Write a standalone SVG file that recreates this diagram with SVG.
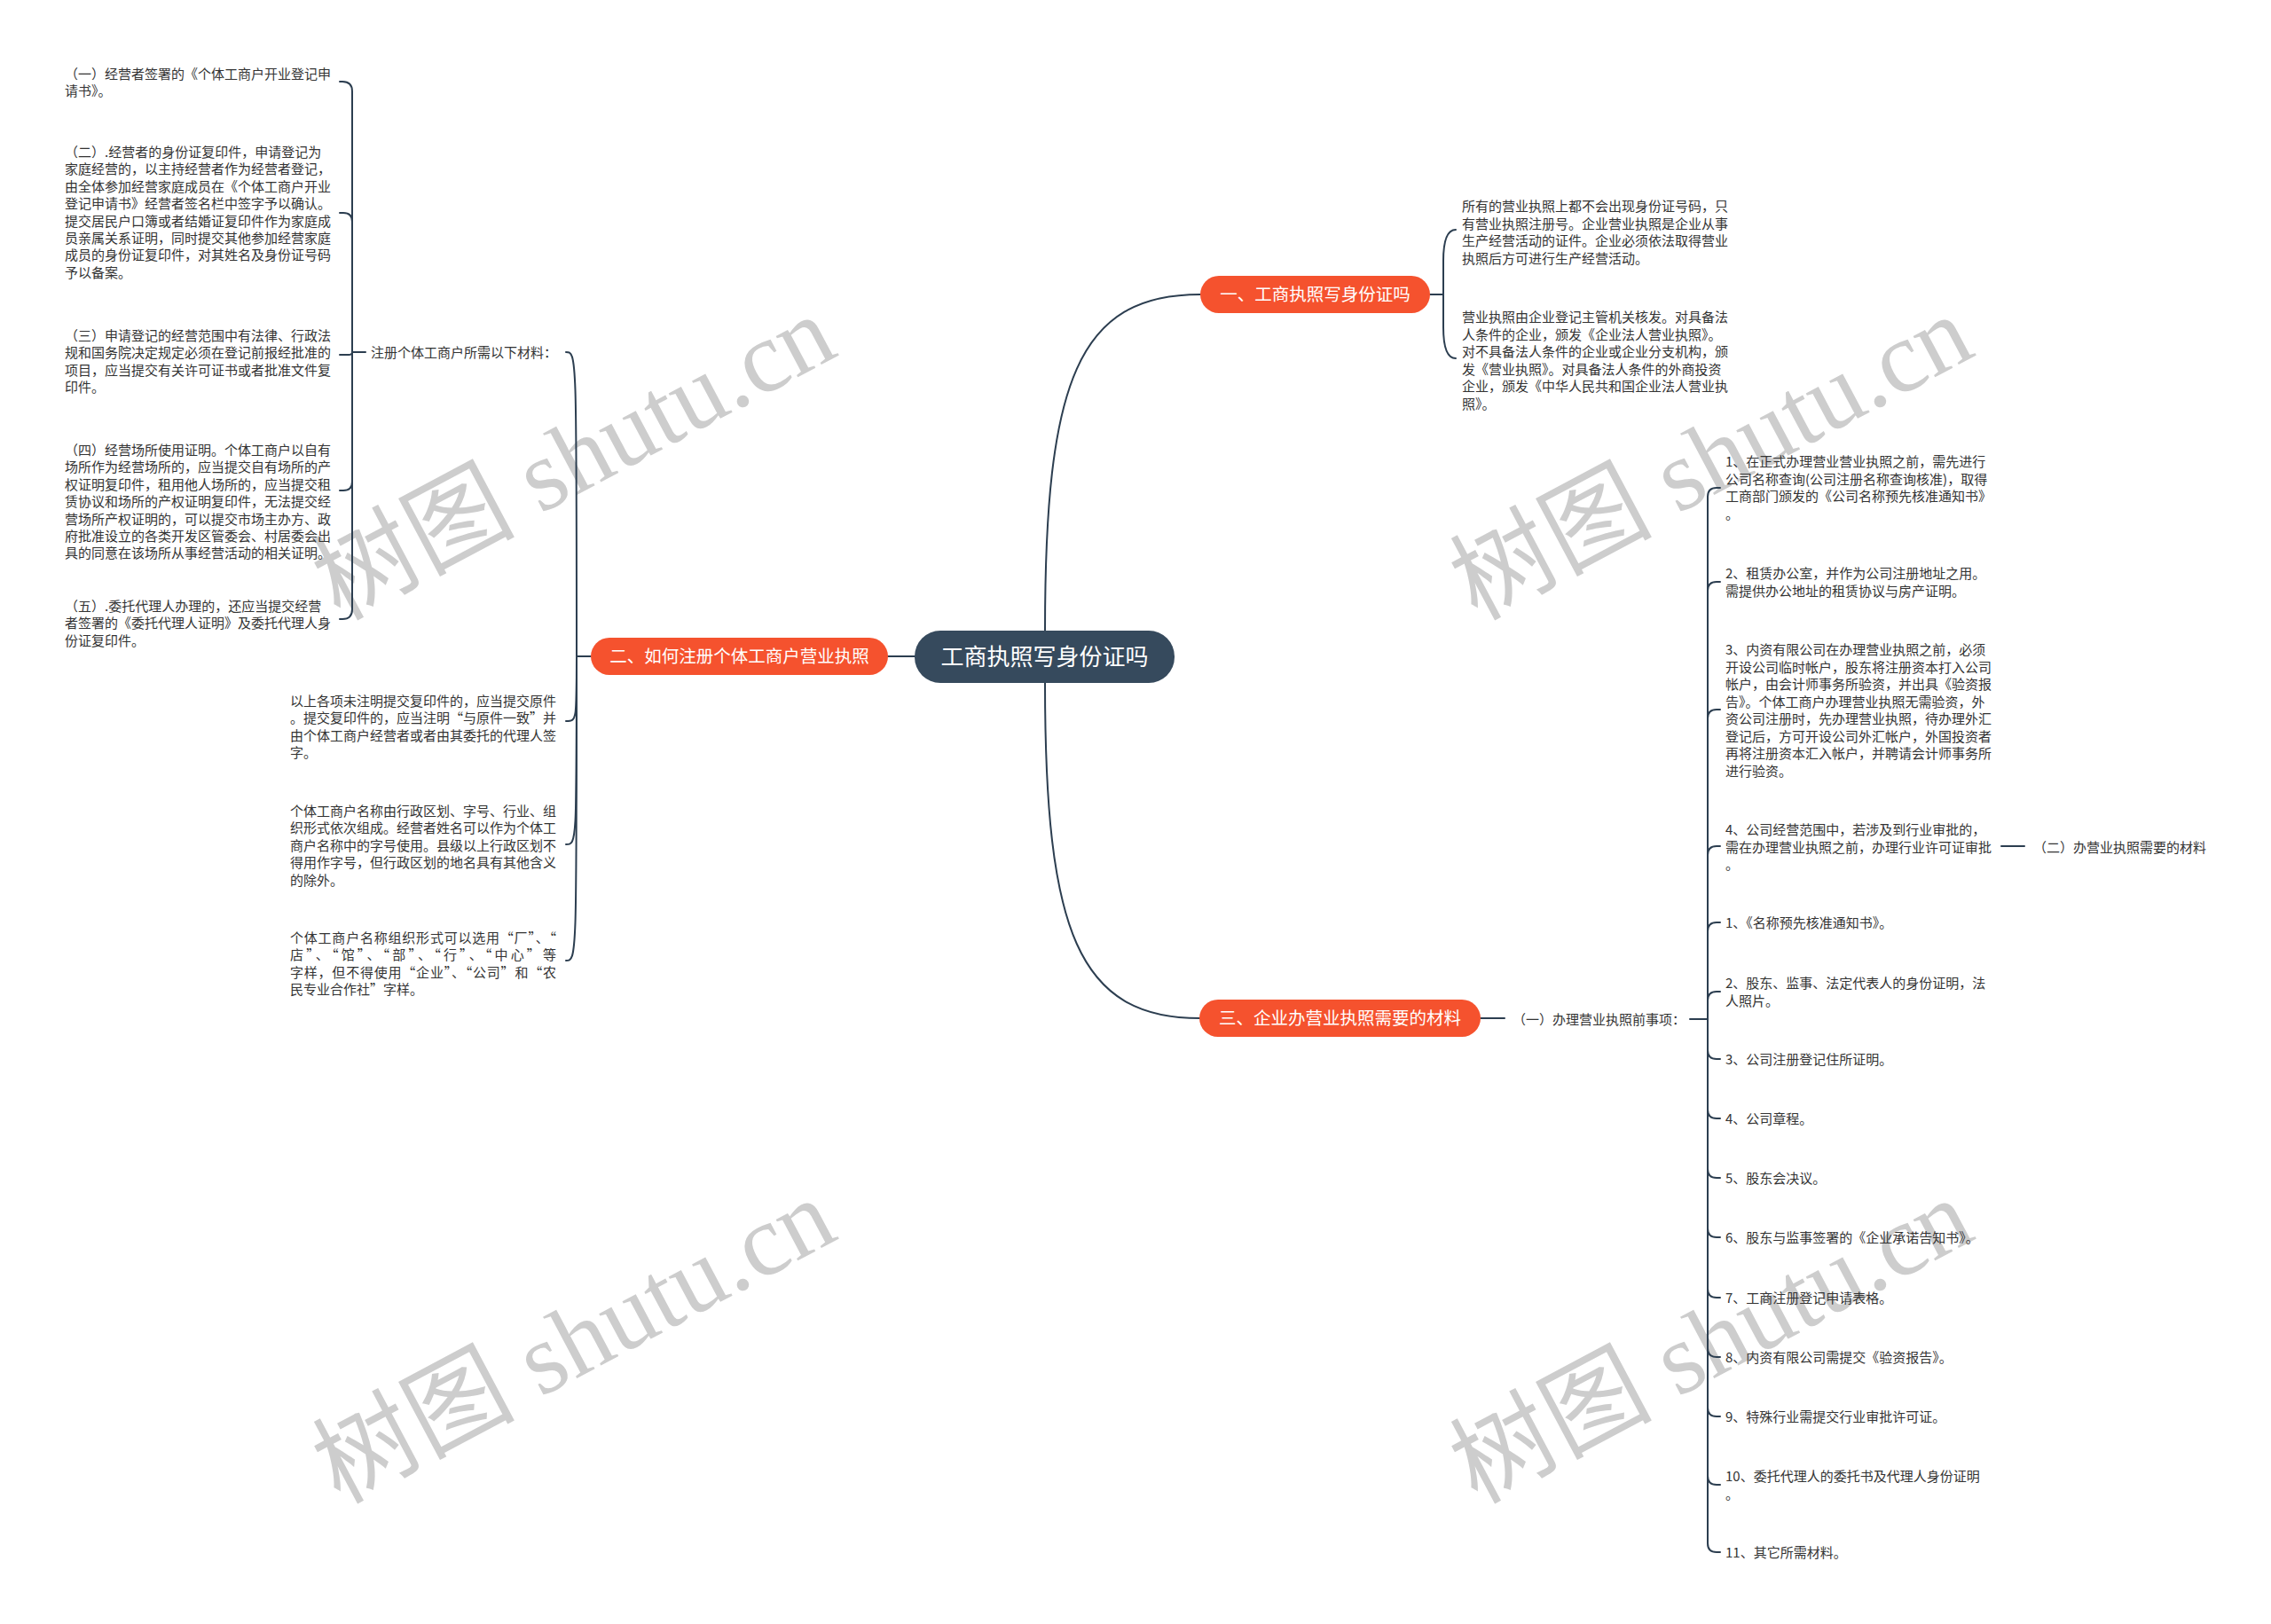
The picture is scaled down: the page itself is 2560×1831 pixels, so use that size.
<svg xmlns="http://www.w3.org/2000/svg" width="2560" height="1831" viewBox="0 0 2560 1831">
<style>
.t{font-family:"Noto Sans CJK SC","Microsoft YaHei",sans-serif;font-size:15px;fill:#333}
.b{font-family:"Noto Sans CJK SC","Microsoft YaHei",sans-serif;font-size:19.5px;fill:#fff;text-anchor:middle}
.r{font-family:"Noto Sans CJK SC","Microsoft YaHei",sans-serif;font-size:26px;fill:#fff;text-anchor:middle}
.c{fill:none;stroke:#2c3e50;stroke-width:2;stroke-linecap:round}
.wm{font-family:"Liberation Serif","Noto Sans CJK SC",serif;font-size:114px;fill:#cdcdcd;text-anchor:middle}
.pill{fill:#f5522e}
</style>
<rect width="2560" height="1831" fill="#fff"/>
<g id="watermarks">
<text class="wm" transform="translate(665 550) rotate(-28)">树图 shutu.cn</text>
<text class="wm" transform="translate(1947 550) rotate(-28)">树图 shutu.cn</text>
<text class="wm" transform="translate(665 1546) rotate(-28)">树图 shutu.cn</text>
<text class="wm" transform="translate(1947 1546) rotate(-28)">树图 shutu.cn</text>
</g>
<g id="connectors">
<path class="c" d="M1178 711 C1178 430 1215 332 1353 332"/>
<path class="c" d="M1178 770 C1178 1050 1215 1148 1353 1148"/>
<path class="c" d="M1031 740 H1001"/>
<path class="c" d="M1612 332 H1627"/>
<path class="c" d="M1627 332 V294 Q1627 259 1641 259"/>
<path class="c" d="M1627 332 V369 Q1627 404 1641 404"/>
<path class="c" d="M666 740 H650"/>
<path class="c" d="M650 740 C650 397 650 397 638 397"/>
<path class="c" d="M650 740 C650 813 650 813 638 813"/>
<path class="c" d="M650 740 C650 952 650 952 638 952"/>
<path class="c" d="M650 740 C650 1083 650 1083 638 1083"/>
<path class="c" d="M412 397 H397"/>
<path class="c" d="M397 397 V103 Q397 92 386 92 H383"/>
<path class="c" d="M397 397 V250 Q397 240 387 240 H383"/>
<path class="c" d="M397 397 Q397 400 393 400 H383"/>
<path class="c" d="M397 397 V543 Q397 553 387 553 H383"/>
<path class="c" d="M397 397 V687 Q397 698 386 698 H383"/>
<path class="c" d="M1669 1148 H1696"/>
<path class="c" d="M1905 1149 H1925"/>
<path class="c" d="M1925 1149 V560 Q1925 550 1935 550 H1939"/>
<path class="c" d="M1925 1149 V666 Q1925 656 1935 656 H1939"/>
<path class="c" d="M1925 1149 V810 Q1925 800 1935 800 H1939"/>
<path class="c" d="M1925 1149 V964 Q1925 954 1935 954 H1939"/>
<path class="c" d="M1925 1149 V1050 Q1925 1040 1935 1040 H1939"/>
<path class="c" d="M1925 1149 V1128 Q1925 1118 1935 1118 H1939"/>
<path class="c" d="M1925 1149 V1184 Q1925 1194 1935 1194 H1939"/>
<path class="c" d="M1925 1149 V1251 Q1925 1261 1935 1261 H1939"/>
<path class="c" d="M1925 1149 V1318 Q1925 1328 1935 1328 H1939"/>
<path class="c" d="M1925 1149 V1385 Q1925 1395 1935 1395 H1939"/>
<path class="c" d="M1925 1149 V1453 Q1925 1463 1935 1463 H1939"/>
<path class="c" d="M1925 1149 V1520 Q1925 1530 1935 1530 H1939"/>
<path class="c" d="M1925 1149 V1587 Q1925 1597 1935 1597 H1939"/>
<path class="c" d="M1925 1149 V1664 Q1925 1674 1935 1674 H1939"/>
<path class="c" d="M1925 1149 V1740 Q1925 1750 1935 1750 H1939"/>
<path class="c" d="M2256 954 H2282"/>
</g>
<g id="root">
<rect x="1031" y="711" width="293" height="59" rx="29" fill="#364a5d"/>
<text class="r" x="1177.5" y="750">工商执照写身份证吗</text>
</g>
<g id="b1">
<rect class="pill" x="1353" y="311" width="259" height="42" rx="21"/>
<text class="b" x="1482.5" y="339.4">一、工商执照写身份证吗</text>
</g>
<g id="b2">
<rect class="pill" x="666" y="719" width="335" height="42" rx="21"/>
<text class="b" x="833.5" y="747.4">二、如何注册个体工商户营业执照</text>
</g>
<g id="b3">
<rect class="pill" x="1352" y="1127" width="317" height="42" rx="21"/>
<text class="b" x="1510.5" y="1155.4">三、企业办营业执照需要的材料</text>
</g>
<g id="r1">
<text class="t"><tspan x="1648" y="238">所有的营业执照上都不会出现身份证号码，只</tspan><tspan x="1648" y="257.5">有营业执照注册号。企业营业执照是企业从事</tspan><tspan x="1648" y="277">生产经营活动的证件。企业必须依法取得营业</tspan><tspan x="1648" y="296.5">执照后方可进行生产经营活动。</tspan></text>
</g>
<g id="r2">
<text class="t"><tspan x="1648" y="363">营业执照由企业登记主管机关核发。对具备法</tspan><tspan x="1648" y="382.5">人条件的企业，颁发《企业法人营业执照》。</tspan><tspan x="1648" y="402">对不具备法人条件的企业或企业分支机构，颁</tspan><tspan x="1648" y="421.5">发《营业执照》。对具备法人条件的外商投资</tspan><tspan x="1648" y="441">企业，颁发《中华人民共和国企业法人营业执</tspan><tspan x="1648" y="460.5">照》。</tspan></text>
</g>
<g id="m0">
<text class="t" x="418" y="403">注册个体工商户所需以下材料：</text>
</g>
<g id="c1">
<text class="t"><tspan x="73" y="89">（一）经营者签署的《个体工商户开业登记申</tspan><tspan x="73" y="108.4">请书》。</tspan></text>
</g>
<g id="c2">
<text class="t"><tspan x="73" y="177">（二）.经营者的身份证复印件，申请登记为</tspan><tspan x="73" y="196.4">家庭经营的，以主持经营者作为经营者登记，</tspan><tspan x="73" y="215.8">由全体参加经营家庭成员在《个体工商户开业</tspan><tspan x="73" y="235.2">登记申请书》经营者签名栏中签字予以确认。</tspan><tspan x="73" y="254.6">提交居民户口簿或者结婚证复印件作为家庭成</tspan><tspan x="73" y="274">员亲属关系证明，同时提交其他参加经营家庭</tspan><tspan x="73" y="293.4">成员的身份证复印件，对其姓名及身份证号码</tspan><tspan x="73" y="312.8">予以备案。</tspan></text>
</g>
<g id="c3">
<text class="t"><tspan x="73" y="384">（三）申请登记的经营范围中有法律、行政法</tspan><tspan x="73" y="403.4">规和国务院决定规定必须在登记前报经批准的</tspan><tspan x="73" y="422.8">项目，应当提交有关许可证书或者批准文件复</tspan><tspan x="73" y="442.2">印件。</tspan></text>
</g>
<g id="c4">
<text class="t"><tspan x="73" y="513">（四）经营场所使用证明。个体工商户以自有</tspan><tspan x="73" y="532.4">场所作为经营场所的，应当提交自有场所的产</tspan><tspan x="73" y="551.8">权证明复印件，租用他人场所的，应当提交租</tspan><tspan x="73" y="571.2">赁协议和场所的产权证明复印件，无法提交经</tspan><tspan x="73" y="590.6">营场所产权证明的，可以提交市场主办方、政</tspan><tspan x="73" y="610">府批准设立的各类开发区管委会、村居委会出</tspan><tspan x="73" y="629.4">具的同意在该场所从事经营活动的相关证明。</tspan></text>
</g>
<g id="c5">
<text class="t"><tspan x="73" y="689">（五）.委托代理人办理的，还应当提交经营</tspan><tspan x="73" y="708.4">者签署的《委托代理人证明》及委托代理人身</tspan><tspan x="73" y="727.8">份证复印件。</tspan></text>
</g>
<g id="m1">
<text class="t" x="327" y="796">以上各项未注明提交复印件的，应当提交原件</text>
<text class="t" x="327" y="815.4" textLength="300" lengthAdjust="spacing">。提交复印件的，应当注明“与原件一致”并</text>
<text class="t" x="327" y="834.8">由个体工商户经营者或者由其委托的代理人签</text>
<text class="t" x="327" y="854.2">字。</text>
</g>
<g id="m2">
<text class="t"><tspan x="327" y="920">个体工商户名称由行政区划、字号、行业、组</tspan><tspan x="327" y="939.4">织形式依次组成。经营者姓名可以作为个体工</tspan><tspan x="327" y="958.8">商户名称中的字号使用。县级以上行政区划不</tspan><tspan x="327" y="978.2">得用作字号，但行政区划的地名具有其他含义</tspan><tspan x="327" y="997.6">的除外。</tspan></text>
</g>
<g id="m3">
<text class="t" x="327" y="1063" textLength="300" lengthAdjust="spacing">个体工商户名称组织形式可以选用“厂”、“</text>
<text class="t" x="327" y="1082.4" textLength="300" lengthAdjust="spacing">店”、“馆”、“部”、“行”、“中心”等</text>
<text class="t" x="327" y="1101.8" textLength="300" lengthAdjust="spacing">字样，但不得使用“企业”、“公司”和“农</text>
<text class="t" x="327" y="1121.2" textLength="150" lengthAdjust="spacing">民专业合作社”字样。</text>
</g>
<g id="s1">
<text class="t" x="1705" y="1155">（一）办理营业执照前事项：</text>
</g>
<g id="t1">
<text class="t"><tspan x="1945" y="526">1、在正式办理营业营业执照之前，需先进行</tspan><tspan x="1945" y="545.5">公司名称查询(公司注册名称查询核准)，取得</tspan><tspan x="1945" y="565">工商部门颁发的《公司名称预先核准通知书》</tspan><tspan x="1945" y="584.5">。</tspan></text>
</g>
<g id="t2">
<text class="t"><tspan x="1945" y="652">2、租赁办公室，并作为公司注册地址之用。</tspan><tspan x="1945" y="671.5">需提供办公地址的租赁协议与房产证明。</tspan></text>
</g>
<g id="t3">
<text class="t"><tspan x="1945" y="738">3、内资有限公司在办理营业执照之前，必须</tspan><tspan x="1945" y="757.5">开设公司临时帐户，股东将注册资本打入公司</tspan><tspan x="1945" y="777">帐户，由会计师事务所验资，并出具《验资报</tspan><tspan x="1945" y="796.5">告》。个体工商户办理营业执照无需验资，外</tspan><tspan x="1945" y="816">资公司注册时，先办理营业执照，待办理外汇</tspan><tspan x="1945" y="835.5">登记后，方可开设公司外汇帐户，外国投资者</tspan><tspan x="1945" y="855">再将注册资本汇入帐户，并聘请会计师事务所</tspan><tspan x="1945" y="874.5">进行验资。</tspan></text>
</g>
<g id="t4">
<text class="t"><tspan x="1945" y="941">4、公司经营范围中，若涉及到行业审批的，</tspan><tspan x="1945" y="960.5">需在办理营业执照之前，办理行业许可证审批</tspan><tspan x="1945" y="980">。</tspan></text>
</g>
<g id="s2">
<text class="t" x="2292" y="960.5">（二）办营业执照需要的材料</text>
</g>
<g id="i1"><text class="t" x="1945" y="1046">1、《名称预先核准通知书》。</text></g>
<g id="i2"><text class="t"><tspan x="1945" y="1114">2、股东、监事、法定代表人的身份证明，法</tspan><tspan x="1945" y="1133.5">人照片。</tspan></text></g>
<g id="i3"><text class="t" x="1945" y="1200">3、公司注册登记住所证明。</text></g>
<g id="i4"><text class="t" x="1945" y="1267">4、公司章程。</text></g>
<g id="i5"><text class="t" x="1945" y="1334">5、股东会决议。</text></g>
<g id="i6"><text class="t" x="1945" y="1401">6、股东与监事签署的《企业承诺告知书》。</text></g>
<g id="i7"><text class="t" x="1945" y="1469">7、工商注册登记申请表格。</text></g>
<g id="i8"><text class="t" x="1945" y="1536">8、内资有限公司需提交《验资报告》。</text></g>
<g id="i9"><text class="t" x="1945" y="1603">9、特殊行业需提交行业审批许可证。</text></g>
<g id="i10"><text class="t"><tspan x="1945" y="1670">10、委托代理人的委托书及代理人身份证明</tspan><tspan x="1945" y="1689.5">。</tspan></text></g>
<g id="i11"><text class="t" x="1945" y="1756">11、其它所需材料。</text></g>
</svg>
